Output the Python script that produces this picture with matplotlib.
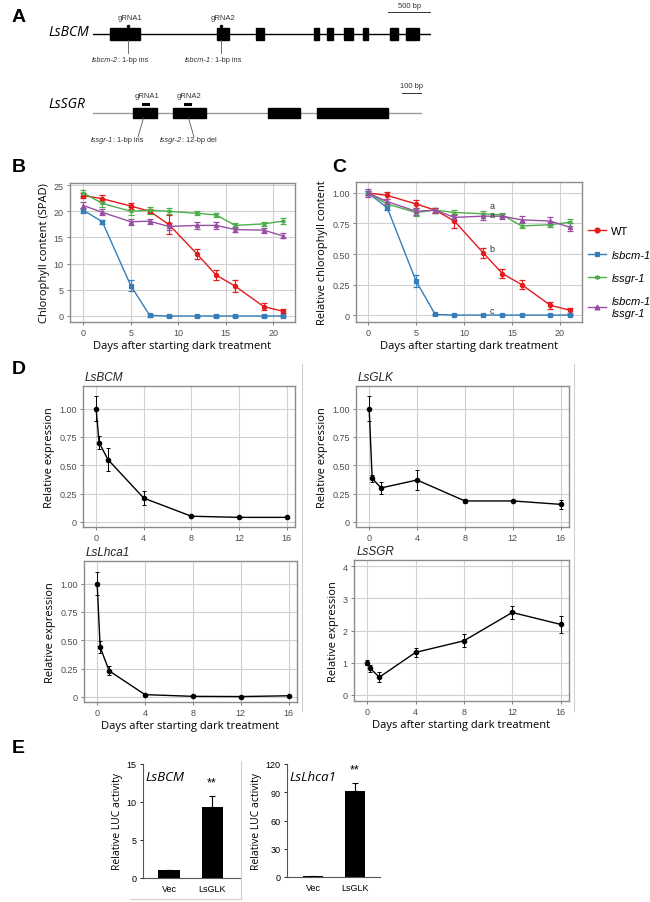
import matplotlib
matplotlib.use('Agg')
import matplotlib.pyplot as plt
from matplotlib.lines import Line2D

# ---- panel A: gene models (bp) ----
bcm_len = 3930
bcm_exons = [(200, 545), (1440, 1580), (1895, 1990), (2570, 2630), (2720, 2790),
             (2920, 3025), (3140, 3200), (3455, 3545), (3640, 3790)]
bcm_grna = [407, 1489]
bcm_grna_names = ['gRNA1', 'gRNA2']
bcm_mut_labels = ['lsbcm-2', 'lsbcm-1']
bcm_mut_text = [': 1-bp ins', ': 1-bp ins']

sgr_len = 1645
sgr_exons = [(200, 320), (400, 565), (875, 1035), (1120, 1475)]
sgr_grna = [260, 470]
sgr_grna_names = ['gRNA1', 'gRNA2']
sgr_mut_labels = ['lssgr-1', 'lssgr-2']
sgr_mut_text = [': 1-bp ins', ': 12-bp del']

# ---- panels B, C: dark treatment ----
days = [0, 2, 5, 7, 9, 12, 14, 16, 19, 21]
genotypes = ['WT', 'lsbcm-1', 'lssgr-1', 'lsbcm-1\nlssgr-1']

spad = {
    'WT':               [23.0, 22.4, 21.0, 20.0, 17.5, 11.8, 7.8, 5.7, 1.8, 0.9],
    'lsbcm-1':          [20.2, 18.0, 5.8, 0.1, 0.0, 0.0, 0.0, 0.0, 0.0, 0.0],
    'lssgr-1':          [23.5, 21.5, 20.0, 20.2, 20.0, 19.6, 19.3, 17.3, 17.6, 18.1],
    'lsbcm-1\nlssgr-1': [21.1, 19.8, 18.0, 18.1, 17.1, 17.3, 17.3, 16.5, 16.4, 15.3],
}
spad_err = {
    'WT':               [0.5, 0.7, 0.6, 0.4, 1.8, 1.0, 1.0, 1.1, 0.6, 0.4],
    'lsbcm-1':          [0.5, 0.4, 1.0, 0.2, 0.1, 0.1, 0.1, 0.1, 0.1, 0.1],
    'lssgr-1':          [0.6, 0.6, 0.8, 0.7, 0.6, 0.4, 0.4, 0.5, 0.4, 0.6],
    'lsbcm-1\nlssgr-1': [0.6, 0.6, 0.6, 0.5, 0.7, 0.6, 0.6, 0.5, 0.5, 0.5],
}
rel_chl = {
    'WT':               [1.00, 0.98, 0.91, 0.86, 0.77, 0.51, 0.34, 0.25, 0.08, 0.04],
    'lsbcm-1':          [1.00, 0.88, 0.28, 0.005, 0.0, 0.0, 0.0, 0.0, 0.0, 0.0],
    'lssgr-1':          [1.00, 0.91, 0.84, 0.86, 0.84, 0.83, 0.82, 0.73, 0.74, 0.76],
    'lsbcm-1\nlssgr-1': [1.00, 0.93, 0.85, 0.86, 0.80, 0.81, 0.81, 0.78, 0.77, 0.72],
}
rel_chl_err = {
    'WT':               [0.02, 0.03, 0.03, 0.02, 0.06, 0.04, 0.04, 0.04, 0.03, 0.02],
    'lsbcm-1':          [0.02, 0.02, 0.05, 0.005, 0.003, 0.003, 0.003, 0.003, 0.003, 0.003],
    'lssgr-1':          [0.02, 0.02, 0.03, 0.02, 0.02, 0.02, 0.02, 0.02, 0.02, 0.03],
    'lsbcm-1\nlssgr-1': [0.03, 0.02, 0.03, 0.02, 0.02, 0.03, 0.02, 0.03, 0.03, 0.03],
}
sig_letters = ['a', 'a', 'b', 'c']
sig_day = 12.7
sig_y = [0.90, 0.825, 0.545, 0.035]

# ---- panel D: expression ----
expr_days = [0, 0.25, 1, 4, 8, 12, 16]
expr_genes = ['LsBCM', 'LsGLK', 'LsLhca1', 'LsSGR']
expr = {
    'LsBCM':   [1.00, 0.70, 0.55, 0.21, 0.05, 0.04, 0.04],
    'LsGLK':   [1.00, 0.385, 0.30, 0.37, 0.185, 0.185, 0.155],
    'LsLhca1': [1.00, 0.44, 0.23, 0.02, 0.005, 0.003, 0.01],
    'LsSGR':   [1.00, 0.82, 0.55, 1.32, 1.68, 2.56, 2.19],
}
expr_err = {
    'LsBCM':   [0.11, 0.06, 0.10, 0.065, 0.006, 0.006, 0.006],
    'LsGLK':   [0.11, 0.03, 0.055, 0.09, 0.02, 0.012, 0.04],
    'LsLhca1': [0.10, 0.05, 0.04, 0.006, 0.004, 0.003, 0.004],
    'LsSGR':   [0.08, 0.12, 0.15, 0.13, 0.20, 0.21, 0.27],
}

# ---- panel E: LUC assay ----
luc_groups = ['Vec', 'LsGLK']
luc_bcm = [1.0, 9.3]
luc_bcm_err = [0.1, 1.5]
luc_lhca = [0.8, 91.0]
luc_lhca_err = [0.3, 9.0]

W, H = 650, 903
SANS = 'Liberation Sans'
LAB = 'Open Sans'
colors = {'WT': '#E41A1C', 'lsbcm-1': '#377EB8', 'lssgr-1': '#4DAF4A',
          'lsbcm-1\nlssgr-1': '#984EA3'}
markers = {'WT': 'o', 'lsbcm-1': 's', 'lssgr-1': (6, 2, 0), 'lsbcm-1\nlssgr-1': '^'}


def box(l, t, r, b):
    return [l / W, 1 - b / H, (r - l) / W, (b - t) / H]


def gg_style(ax):
    ax.set_facecolor('white')
    for s in ax.spines.values():
        s.set_color('#8c8c8c')
        s.set_linewidth(1.0)
    ax.grid(True, color='#d0d0d0', linewidth=0.8)
    ax.set_axisbelow(True)
    ax.tick_params(length=2.5, width=0.6, color='#666666', labelsize=6.5,
                   labelcolor='#4d4d4d', pad=2)
    for lab in ax.get_xticklabels() + ax.get_yticklabels():
        lab.set_fontfamily(SANS)


fig = plt.figure(figsize=(W / 100, H / 100), dpi=100)

# overlay for panel letters and frame lines
ov = fig.add_axes([0, 0, 1, 1], zorder=-1)
ov.set_xlim(0, W)
ov.set_ylim(H, 0)
ov.axis('off')
for lt, x, y in [('A', 12, 17), ('B', 12, 167), ('C', 332, 167), ('D', 12, 370), ('E', 12, 749)]:
    ov.text(x, y, lt, fontsize=14, fontweight='bold', family=SANS, ha='left', va='center')
ov.plot([302, 302], [365, 712], color='#d0d0d0', lw=0.8)
ov.plot([574, 574], [365, 712], color='#d0d0d0', lw=0.8)
ov.plot([241, 241], [762, 900], color='#d0d0d0', lw=0.8)
ov.plot([130, 241], [900, 900], color='#d0d0d0', lw=0.8)


# ---- A ----
def gene_axes(px, t, b, length, exons, grna, gnames, mlabels, mtexts, line_y, ex_h,
              line_col, dot, scale_bp, scale_y, diag, lab_y, name, name_y):
    ax = fig.add_axes(box(px[0], t, px[1], b))
    ax.set_xlim(0, length)
    ax.set_ylim(b, t)
    ax.axis('off')
    ax.plot([0, length], [line_y, line_y], color=line_col, lw=1.0, zorder=1)
    for s, e in exons:
        ax.add_patch(plt.Rectangle((s, line_y - ex_h / 2), e - s, ex_h, color='black', zorder=2))
    bpx = length / (px[1] - px[0])   # bp per pixel
    for i, g in enumerate(grna):
        ax.text(g + 2 * bpx, line_y - 17, gnames[i], fontsize=5.5, family=SANS,
                color='#333333', ha='center', va='center')
        if dot:
            ax.plot([g], [line_y - 8], marker='o', ms=1.5, color='black')
        else:
            ax.plot([g - 2.5 * bpx, g + 2.5 * bpx], [line_y - 9, line_y - 9], color='black', lw=2.2)
        if diag:
            sx = -1 if i == 0 else 1
            ax.plot([g + 1.5 * bpx * sx, g + sx * 7 * bpx], [line_y + ex_h / 2, line_y + 24],
                    color='#555555', lw=0.6)
            cx = g + sx * (22 if i == 0 else 5) * bpx
        else:
            ax.plot([g, g], [line_y + ex_h / 2, line_y + 19], color='#555555', lw=0.6)
            cx = g
        ax.text(cx - 10 * bpx, lab_y, mlabels[i], ha='right', va='center', fontsize=5.3,
                family=SANS, style='italic', color='#333333')
        ax.text(cx - 10 * bpx, lab_y, mtexts[i], ha='left', va='center', fontsize=5.3,
                family=SANS, color='#333333')
    x1 = length - scale_bp
    ax.plot([x1, length], [scale_y, scale_y], color='#333333', lw=0.7)
    ax.text((x1 + length) / 2, scale_y - 7, f'{scale_bp} bp', fontsize=5.5, family=SANS,
            color='#333333', ha='center', va='center')
    fig.text(48 / W, 1 - name_y / H, name, fontsize=10, family=LAB, style='italic',
             ha='left', va='center')
    return ax


gene_axes((93, 431), 0, 70, bcm_len, bcm_exons, bcm_grna, bcm_grna_names, bcm_mut_labels,
          bcm_mut_text, 35, 12, 'black', True, 500, 13, False, 61, 'LsBCM', 33)
gene_axes((93, 422), 80, 150, sgr_len, sgr_exons, sgr_grna, sgr_grna_names, sgr_mut_labels,
          sgr_mut_text, 114, 10, '#999999', False, 100, 94, True, 140, 'LsSGR', 105)

# ---- B ----
axB = fig.add_axes(box(70, 184, 295, 323))
for g in genotypes:
    axB.errorbar(days, spad[g], yerr=spad_err[g], color=colors[g], marker=markers[g], ms=3,
                 mew=0.9, lw=1.0, elinewidth=0.8, capsize=2, capthick=0.8)
axB.set_xlim(-1.4, 22.3)
axB.set_ylim(-1.15, 25.4)
axB.set_xticks([0, 5, 10, 15, 20])
axB.set_yticks([0, 5, 10, 15, 20, 25])
gg_style(axB)
axB.set_ylabel('Chlorophyll content (SPAD)', family=LAB, fontsize=8, labelpad=3)
axB.set_xlabel('Days after starting dark treatment', family=LAB, fontsize=8, labelpad=2)

# ---- C ----
axC = fig.add_axes(box(356, 183, 582, 323))
handles = []
for g in genotypes:
    axC.errorbar(days, rel_chl[g], yerr=rel_chl_err[g], color=colors[g], marker=markers[g],
                 ms=3, mew=0.9, lw=1.0, elinewidth=0.8, capsize=2, capthick=0.8)
    handles.append(Line2D([], [], color=colors[g], marker=markers[g], ms=3.5, mew=0.9, lw=1.0))
for s, y in zip(sig_letters, sig_y):
    axC.text(sig_day, y, s, fontsize=6.5, family=SANS, color='#333333', ha='left', va='center')
axC.set_xlim(-1.25, 22.3)
axC.set_ylim(-0.057, 1.09)
axC.set_xticks([0, 5, 10, 15, 20])
axC.set_yticks([0, 0.25, 0.5, 0.75, 1.0])
axC.set_yticklabels(['0', '0.25', '0.50', '0.75', '1.00'])
gg_style(axC)
axC.set_ylabel('Relative chlorophyll content', family=LAB, fontsize=8, labelpad=3)
axC.set_xlabel('Days after starting dark treatment', family=LAB, fontsize=8, labelpad=2)
leg = fig.legend(handles, genotypes, loc='center left', bbox_to_anchor=(578 / W, 1 - 273 / H),
                 frameon=False, handlelength=1.6, handletextpad=0.5, labelspacing=1.2,
                 prop={'family': SANS, 'size': 8})
for t in leg.get_texts()[1:]:
    t.set_style('italic')

# ---- D ----
d_boxes = {'LsBCM': (83, 387, 295, 528), 'LsGLK': (356, 387, 569, 528),
           'LsLhca1': (84, 562, 297, 703), 'LsSGR': (354, 561, 569, 702)}
for gname in expr_genes:
    l, t, r, b = d_boxes[gname]
    ax = fig.add_axes(box(l, t, r, b))
    ax.errorbar(expr_days, expr[gname], yerr=expr_err[gname], color='black', marker='o', ms=3,
                lw=1.0, elinewidth=0.7, capsize=1.5, capthick=0.7)
    ax.set_xlim(-1.1, 16.7)
    ax.set_xticks([0, 4, 8, 12, 16])
    if gname == 'LsSGR':
        ax.set_ylim(-0.19, 4.19)
        ax.set_yticks([0, 1, 2, 3, 4])
    else:
        ax.set_ylim(-0.045, 1.2)
        ax.set_yticks([0, 0.25, 0.5, 0.75, 1.0])
        ax.set_yticklabels(['0', '0.25', '0.50', '0.75', '1.00'])
    gg_style(ax)
    ax.text(0.01, 1.02, gname, transform=ax.transAxes, fontsize=8.5, family=SANS,
            style='italic', ha='left', va='bottom', color='#222222')
    ax.set_ylabel('Relative expression', family=LAB, fontsize=8, labelpad=3)
    if gname in ('LsLhca1', 'LsSGR'):
        ax.set_xlabel('Days after starting dark treatment', family=LAB, fontsize=8, labelpad=2)


# ---- E ----
def luc_axes(bx, vals, errs, ylim, yticks, name):
    ax = fig.add_axes(box(*bx))
    ax.bar([0, 1], vals, width=0.49, color='black', yerr=[[0, 0], errs],
           error_kw=dict(elinewidth=0.8, capsize=2.5, capthick=0.8, ecolor='black'))
    ax.set_ylim(*ylim)
    ax.set_yticks(yticks)
    ax.set_xticks([0, 1])
    ax.set_xticklabels(luc_groups)
    for s in ['top', 'right']:
        ax.spines[s].set_visible(False)
    for s in ['left', 'bottom']:
        ax.spines[s].set_color('#555555')
        ax.spines[s].set_linewidth(0.8)
    ax.tick_params(axis='x', length=0, labelsize=6.5, pad=4)
    ax.tick_params(axis='y', length=2.5, width=0.6, labelsize=6.5, pad=2)
    for lab in ax.get_xticklabels() + ax.get_yticklabels():
        lab.set_fontfamily(SANS)
    ax.text(1, vals[1] + errs[1] + (ylim[1] - ylim[0]) * 0.12, '**', ha='center', va='center',
            fontsize=9, family=SANS)
    ax.text(0.03, 0.89, name, transform=ax.transAxes, fontsize=9.5, family=LAB, style='italic',
            ha='left', va='center')
    ax.set_ylabel('Relative LUC activity', family=LAB, fontsize=7.5, labelpad=3)
    return ax


axE1 = luc_axes((143, 765, 240, 879), luc_bcm, luc_bcm_err, (0, 15), [0, 5, 10, 15], 'LsBCM')
axE1.set_xlim(-0.605, 1.65)
axE2 = luc_axes((287, 765, 380, 878), luc_lhca, luc_lhca_err, (0, 120), [0, 30, 60, 90, 120],
                'LsLhca1')
axE2.set_xlim(-0.62, 1.6)

fig.savefig('out.png', dpi=100)
